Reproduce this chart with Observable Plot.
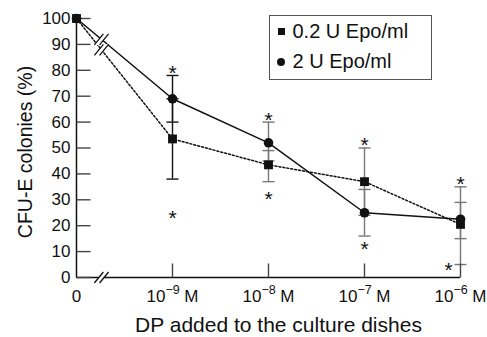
<!DOCTYPE html>
<html>
<head>
<meta charset="utf-8">
<script src="https://cdn.jsdelivr.net/npm/d3@7"></script>
<script src="https://cdn.jsdelivr.net/npm/@observablehq/plot@0.6"></script>
<style>
  body { margin: 0; background: white; }
  #wrap { position: relative; width: 487px; height: 337px; font-family: "Liberation Sans", Arial, Helvetica, sans-serif; }
  #legend { position: absolute; left: 269px; top: 15px; width: 163px; height: 65px; box-sizing: border-box; border: 1.5px solid #555; background: white; }
  #legend .lbl { position: absolute; left: 22.5px; font-size: 20px; line-height: 24px; white-space: nowrap; color: #111; }
  #legend .sq { position: absolute; width: 7px; height: 7px; background: #111; }
  #legend .ci { position: absolute; width: 8px; height: 8px; background: #111; border-radius: 50%; }
</style>
</head>
<body>
<div id="wrap"></div>
<script>
// ---- data ----
const categories = ["0", "10^−9 M", "10^−8 M", "10^−7 M", "10^−6 M"];
const seriesNames = ["0.2 U Epo/ml", "2 U Epo/ml"];
const epo02 = [100, 53.5, 43.5, 37, 20.5];
const epo02Lo = [null, 38, 37, 24, 5];
const epo02Hi = [null, 69, 49, 50, 35];
const epo2 = [100, 69, 52, 25, 22.5];
const epo2Lo = [null, 60, 45, 16, 15];
const epo2Hi = [null, 78, 60, 34, 29];
const starX = [1, 1, 2, 2, 3, 3, 4, 4];
const starY = [81, 25, 63, 32.5, 53, 13, 38, 5];
const yTicks = [0, 10, 20, 30, 40, 50, 60, 70, 80, 90, 100];
const xTitle = "DP added to the culture dishes";
const yTitle = "CFU-E colonies (%)";

// ---- derived tables ----
const rows02 = epo02.map((v, i) => ({x: i, y: v}));
const rows2 = epo2.map((v, i) => ({x: i, y: v}));
const errRows = [];
const capRows = [];
categories.forEach((c, i) => {
  for (const [lo, hi] of [[epo02Lo[i], epo02Hi[i]], [epo2Lo[i], epo2Hi[i]]]) {
    if (lo == null) continue;
    errRows.push({x: i, lo, hi});
    capRows.push({x: i, y: lo}, {x: i, y: hi});
  }
});
const stars = starX.map((x, i) => ({x, y: starY[i]}));
const breakAt = 0.26;
const breakRows = [
  {x: breakAt, y: epo02[0] + breakAt * (epo02[1] - epo02[0])},
  {x: breakAt, y: epo2[0] + breakAt * (epo2[1] - epo2[0])},
  {x: breakAt, y: 0}
];

// ---- custom symbols ----
const sx = 4.5, sy = 5.5, so = 2.6;
const slashSym = {draw(c) { for (const o of [-so, so]) { c.moveTo(o - sx, sy); c.lineTo(o + sx, -sy); } }};
const gapSym = {draw(c) { c.moveTo(-so - sx, sy); c.lineTo(-so + sx, -sy); c.lineTo(so + sx, -sy); c.lineTo(so - sx, sy); c.closePath(); }};
const yTickSym = {draw(c) { c.moveTo(0, 0); c.lineTo(14, 0); }};
const xTickSym = {draw(c) { c.moveTo(0, 0); c.lineTo(0, -14); }};
const capSym = {draw(c) { c.moveTo(-6, 0); c.lineTo(6, 0); }};

const barColor = d => d.x === 1 ? "#111" : "#777";

const chart = Plot.plot({
  width: 487,
  height: 337,
  marginLeft: 76,
  marginRight: 27,
  marginTop: 18,
  marginBottom: 60,
  x: {type: "linear", domain: [0, 4], axis: null},
  y: {type: "linear", domain: [0, 100], axis: null},
  style: {fontFamily: "'Liberation Sans', Arial, Helvetica, sans-serif", background: "white", color: "#111"},
  marks: [
    // error bars
    Plot.ruleX(errRows, {x: "x", y1: "lo", y2: "hi", stroke: barColor, strokeWidth: 1.4}),
    Plot.dot(capRows, {x: "x", y: "y", symbol: capSym, fill: "none", stroke: barColor, strokeWidth: 1.4}),
    // axes
    Plot.ruleX([0], {y1: 0, y2: 100, stroke: "#111", strokeWidth: 1.5}),
    Plot.ruleY([0], {x1: 0, x2: categories.length - 1, stroke: "#111", strokeWidth: 1.5}),
    Plot.dot(yTicks, {x: 0, y: d => d, symbol: yTickSym, fill: "none", stroke: "#444", strokeWidth: 1.4}),
    Plot.dot(categories.slice(1), {x: (d, i) => i + 1, y: 0, symbol: xTickSym, fill: "none", stroke: "#444", strokeWidth: 1.4}),
    // lines
    Plot.line(rows02, {x: "x", y: "y", stroke: "#111", strokeWidth: 1.5, strokeDasharray: "2,2"}),
    Plot.line(rows2, {x: "x", y: "y", stroke: "#111", strokeWidth: 1.5}),
    // axis breaks
    Plot.dot(breakRows, {x: "x", y: "y", symbol: gapSym, fill: "white", stroke: "none"}),
    Plot.dot(breakRows, {x: "x", y: "y", symbol: slashSym, fill: "none", stroke: "#111", strokeWidth: 1.3}),
    // points
    Plot.dot(rows02, {x: "x", y: "y", symbol: "square", r: 5, fill: "#111", stroke: "none"}),
    Plot.dot(rows2, {x: "x", y: "y", symbol: "circle", r: 4.8, fill: "#111", stroke: "none"}),
    // asterisks
    Plot.text(stars.filter(s => !(s.x === 4 && s.y < 10)), {x: "x", y: "y", text: () => "*", fontSize: 21, dy: 5.5, fill: "#111"}),
    Plot.text(stars.filter(s => s.x === 4 && s.y < 10), {x: "x", y: "y", text: () => "*", fontSize: 21, dy: 5.5, dx: -12, fill: "#111"}),
    // tick labels
    Plot.text(yTicks, {x: 0, y: d => d, text: d => String(d), textAnchor: "end", dx: -6, fontSize: 17, fill: "#111"}),
    Plot.text(categories, {x: (d, i) => i, y: 0, text: d => d, dy: 19.5, fontSize: 17, fill: "#111", className: "xlab"}),
    // titles
    Plot.text([xTitle], {frameAnchor: "bottom", textAnchor: "middle", lineAnchor: "middle", text: d => d, dy: 48, dx: 10, fontSize: 21, fill: "#111"}),
    Plot.text([yTitle], {frameAnchor: "left", textAnchor: "middle", lineAnchor: "middle", text: d => d, rotate: -90, dx: -50.3, dy: 4, fontSize: 19.5, fill: "#111"})
  ]
});

// superscripts in x tick labels
chart.querySelectorAll(".xlab text").forEach(t => {
  const m = t.textContent.match(/^(.*)\^(\S+)(.*)$/);
  if (!m) return;
  t.textContent = "";
  const NS = "http://www.w3.org/2000/svg";
  const a = document.createElementNS(NS, "tspan"); a.textContent = m[1];
  const b = document.createElementNS(NS, "tspan"); b.textContent = m[2];
  b.setAttribute("dy", "-8.5"); b.setAttribute("font-size", "12.5");
  const c = document.createElementNS(NS, "tspan"); c.textContent = m[3];
  c.setAttribute("dy", "8.5");
  t.append(a, b, c);
});

const wrap = document.getElementById("wrap");
wrap.appendChild(chart);

// legend
const legend = document.createElement("div");
legend.id = "legend";
legend.innerHTML =
  `<div class="sq" style="left:7.7px;top:11.7px"></div>` +
  `<div class="lbl" style="top:2.9px">${seriesNames[0]}</div>` +
  `<div class="ci" style="left:7.2px;top:42.2px"></div>` +
  `<div class="lbl" style="top:32.6px">${seriesNames[1]}</div>`;
wrap.appendChild(legend);
</script>
</body>
</html>
